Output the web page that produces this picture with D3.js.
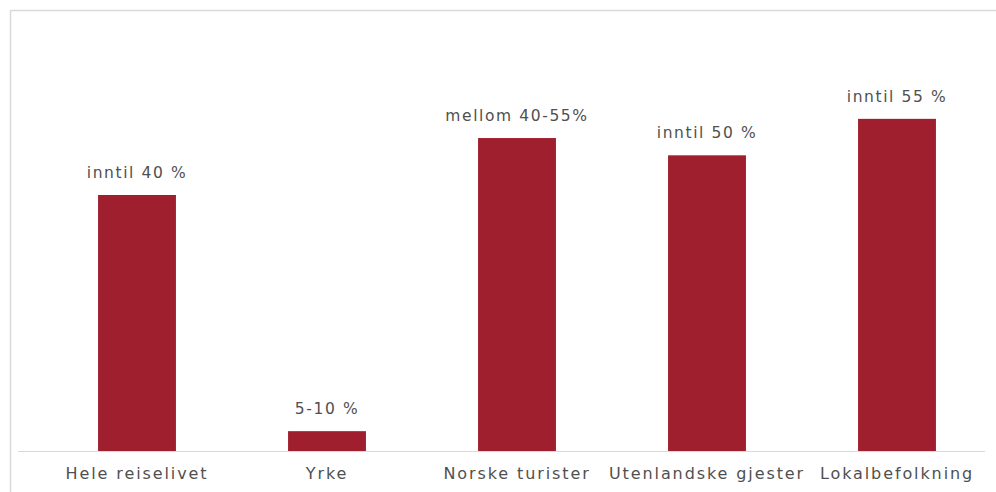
<!DOCTYPE html>
<html><head><meta charset="utf-8">
<script src="https://cdn.jsdelivr.net/npm/d3@7"></script>
<style>body{margin:0;background:#fff}svg{display:block}</style>
</head><body>
<svg id="c" width="996" height="492"></svg>
<script>
const categories = ["Hele reiselivet","Yrke","Norske turister","Utenlandske gjester","Lokalbefolkning"];
const values = [40, 3.1, 48.9, 46.2, 51.9];
const valueLabels = ["inntil 40 %","5-10 %","mellom 40-55%","inntil 50 %","inntil 55 %"];

const svg = d3.select("#c");
const W = 996, H = 492;
const base = 451;
const x = d3.scaleBand().domain(categories).range([42, 992]).paddingInner(0.59).paddingOuter(0.295);
const y = d3.scaleLinear().domain([0, 60]).range([base, base - 384]);

// frame
svg.append("path").attr("d", `M10.5,${H} V10.5 H${W}`).attr("fill","none").attr("stroke","#d9d9d9").attr("stroke-width",1.5);

const font = "'DejaVu Sans', sans-serif";

svg.append("g").selectAll("rect").data(categories).join("rect")
  .attr("x", d => x(d)).attr("width", x.bandwidth())
  .attr("y", (d,i) => y(values[i])).attr("height", (d,i) => base - y(values[i]))
  .attr("fill", "#a01f2e");

// baseline
svg.append("line").attr("x1", 18).attr("x2", 985).attr("y1", base + 0.5).attr("y2", base + 0.5)
  .attr("stroke", "#d9d9d9").attr("stroke-width", 1);

svg.append("g").selectAll("text").data(categories).join("text")
  .attr("x", d => x(d) + x.bandwidth()/2).attr("y", (d,i) => y(values[i]) - 17)
  .attr("text-anchor","middle").attr("font-family", font).attr("font-size", 15.5)
  .attr("letter-spacing", "1.6px")
  .attr("fill", "#505050").text((d,i) => valueLabels[i]);

const xAxis = d3.axisBottom(x).tickSize(0).tickPadding(17);
const ax = svg.append("g").attr("transform", `translate(0,${base})`).call(xAxis);
ax.select(".domain").remove();
ax.selectAll("text").attr("font-family", font).attr("font-size", 16).attr("letter-spacing", "1.9px").attr("fill", "#505050");
</script>
</body></html>
